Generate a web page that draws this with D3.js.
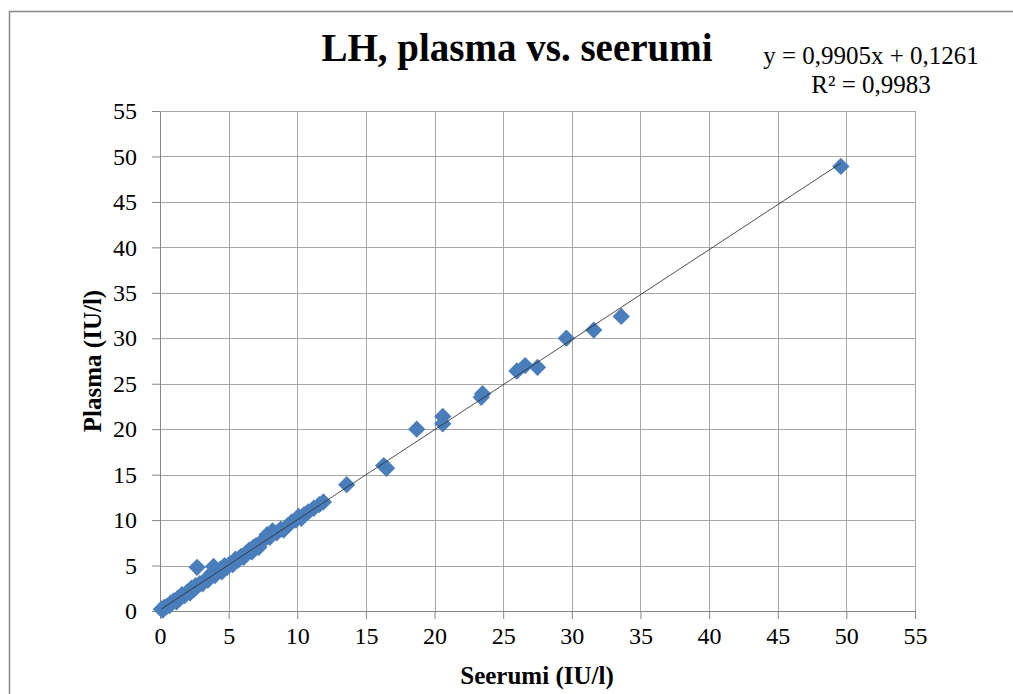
<!DOCTYPE html>
<html>
<head>
<meta charset="utf-8">
<script src="https://cdn.jsdelivr.net/npm/d3@7"></script>
<style>
  body { margin: 0; background: #fff; }
  text { font-family: "Liberation Serif", serif; fill: #000; }
</style>
</head>
<body>
<div class="chart"></div>
<script>
// seerumi (x) vs plasma (y), IU/l
var seerumi = [0.1, 0.2, 0.3, 0.5, 0.7, 0.8, 1.0, 1.2, 1.3, 1.5, 1.6, 1.8, 2.0, 2.2, 2.3, 2.5, 2.6, 2.7, 2.9, 3.1,
    3.3, 3.5, 3.6, 3.8, 3.9, 4.0, 4.2, 4.4, 4.5, 4.7, 4.9, 5.1, 5.3, 5.5, 5.7, 5.9, 6.1, 6.3, 6.5, 6.7,
    6.8, 7.0, 7.2, 7.4, 7.6, 7.8, 8.0, 8.2, 8.5, 8.8, 9.0, 9.3, 9.6, 9.9, 10.1, 10.3, 10.5, 10.8, 11.2, 11.6,
    11.9, 13.6, 16.3, 16.5, 18.7, 20.6, 20.6, 23.4, 23.5, 26.0, 26.6, 27.5, 29.6, 31.6, 33.6, 49.6];
var plasma = [0.2, 0.1, 0.4, 0.5, 0.6, 0.9, 1.1, 1.0, 1.4, 1.5, 1.8, 1.7, 2.1, 2.0, 2.5, 2.4, 2.8, 4.8, 3.0, 3.0,
    3.4, 3.4, 3.8, 4.2, 4.9, 3.9, 4.3, 4.6, 4.3, 5.0, 4.8, 5.2, 5.1, 5.7, 5.6, 6.0, 5.9, 6.4, 6.7, 6.5,
    7.0, 7.2, 7.0, 7.6, 7.9, 8.4, 8.1, 8.8, 8.6, 9.0, 8.9, 9.4, 9.8, 10.0, 10.4, 10.2, 10.6, 10.9, 11.3, 11.7,
    12.0, 13.9, 16.0, 15.7, 20.0, 21.4, 20.6, 23.5, 23.9, 26.4, 27.0, 26.8, 30.0, 30.9, 32.4, 48.9];
var ticks = [0, 5, 10, 15, 20, 25, 30, 35, 40, 45, 50, 55];
var slope = 0.9905, intercept = 0.1261;

var margin = { top: 111, right: 98, bottom: 83, left: 160 },
    width = 1013 - margin.left - margin.right,
    height = 694 - margin.top - margin.bottom;

var svg = d3.select(".chart").append("svg")
    .attr("width", 1013)
    .attr("height", 694);

// outer chart border
svg.append("rect")
    .attr("x", 9.5).attr("y", 11.5)
    .attr("width", 1020).attr("height", 700)
    .attr("fill", "none")
    .attr("stroke", "#868686")
    .attr("stroke-width", 1.5);

var g = svg.append("g")
    .attr("transform", "translate(" + margin.left + "," + margin.top + ")");

var x = d3.scaleLinear().domain([0, 55]).range([0, width]);
var y = d3.scaleLinear().domain([0, 55]).range([height, 0]);

// gridlines
g.append("g").selectAll("line")
    .data(ticks.slice(1)).enter().append("line")
    .attr("x1", 0).attr("x2", width)
    .attr("y1", d => Math.round(y(d)) + 0.5).attr("y2", d => Math.round(y(d)) + 0.5)
    .attr("stroke", "#a6a6a6");
g.append("g").selectAll("line")
    .data(ticks.slice(1)).enter().append("line")
    .attr("y1", 0).attr("y2", height)
    .attr("x1", d => Math.round(x(d)) + 0.5).attr("x2", d => Math.round(x(d)) + 0.5)
    .attr("stroke", "#a6a6a6");

var xAxis = d3.axisBottom(x).tickValues(ticks).tickSize(8).tickPadding(8).tickSizeOuter(0);
var yAxis = d3.axisLeft(y).tickValues(ticks).tickSize(8).tickPadding(15).tickSizeOuter(0);

var gx = g.append("g")
    .attr("transform", "translate(0," + height + ")")
    .call(xAxis);
var gy = g.append("g").call(yAxis);

[gx, gy].forEach(function (a) {
    a.attr("font-family", "Liberation Serif").attr("font-size", 24);
    a.select(".domain").attr("stroke", "#868686");
    a.selectAll(".tick line").attr("stroke", "#868686");
    a.selectAll(".tick text")
        .attr("font-family", "Liberation Serif")
        .attr("font-size", 24)
        .attr("fill", "#000");
});

// trendline
var xs = d3.extent(seerumi);

// diamond markers
var diamond = d3.symbol().type(d3.symbolSquare).size(150);
g.append("g").selectAll("path")
    .data(seerumi.map((v, i) => [v, plasma[i]]))
    .enter().append("path")
    .attr("d", diamond)
    .attr("transform", d => "translate(" + x(d[0]) + "," + y(d[1]) + ") rotate(45)")
    .attr("fill", "#4a7ebb");

g.append("line") // linear trendline drawn over the markers
    .attr("x1", x(xs[0])).attr("y1", y(slope * xs[0] + intercept))
    .attr("x2", x(xs[1])).attr("y2", y(slope * xs[1] + intercept))
    .attr("stroke", "#303030")
    .attr("stroke-width", 1)
    .attr("opacity", 0.85);

// titles
svg.append("text")
    .attr("x", 517).attr("y", 61)
    .attr("text-anchor", "middle")
    .style("font-size", "39px").style("font-weight", "bold")
    .text("LH, plasma vs. seerumi");

svg.append("text")
    .attr("x", 871).attr("y", 64)
    .attr("text-anchor", "middle")
    .style("font-size", "25px")
    .text("y = 0,9905x  + 0,1261");
svg.append("text")
    .attr("x", 871).attr("y", 93)
    .attr("text-anchor", "middle")
    .style("font-size", "25px")
    .text("R² = 0,9983");

svg.append("text")
    .attr("x", 537).attr("y", 684)
    .attr("text-anchor", "middle")
    .style("font-size", "25px").style("font-weight", "bold")
    .text("Seerumi (IU/l)");

svg.append("text")
    .attr("transform", "translate(101,361) rotate(-90)")
    .attr("text-anchor", "middle")
    .style("font-size", "25px").style("font-weight", "bold")
    .text("Plasma (IU/l)");
</script>
</body>
</html>
